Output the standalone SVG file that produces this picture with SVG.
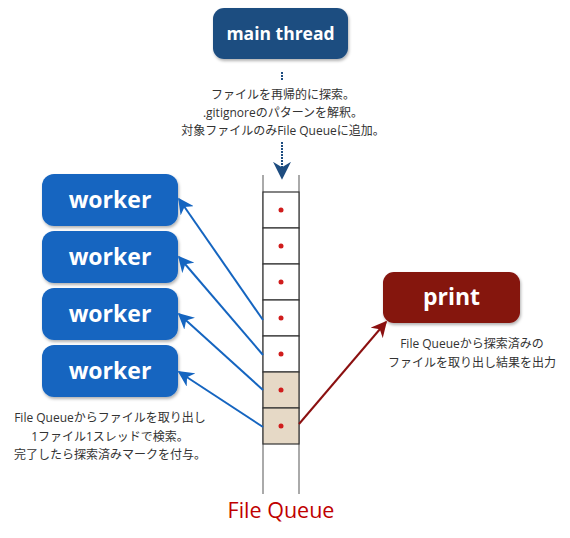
<svg xmlns="http://www.w3.org/2000/svg" width="570" height="538" viewBox="0 0 570 538">
<defs>
<filter id="sh" x="-10%" y="-10%" width="130%" height="140%"><feDropShadow dx="1" dy="2" stdDeviation="1.5" flood-color="#000" flood-opacity="0.3"/></filter>
<marker id="ar" viewBox="0 0 10 10" refX="9" refY="5" markerWidth="16" markerHeight="16" orient="auto" markerUnits="userSpaceOnUse"><path d="M0,0 L10,5 L0,10 L3,5 Z" fill="#8b1010"/></marker>
<marker id="abig" viewBox="0 0 10 10" refX="9" refY="5" markerWidth="16" markerHeight="16" orient="auto" markerUnits="userSpaceOnUse"><path d="M0,0 L10,5 L0,10 L3,5 Z" fill="#1565c0"/></marker>
<marker id="ad" viewBox="0 0 10 10" refX="9" refY="5" markerWidth="18" markerHeight="18" orient="auto" markerUnits="userSpaceOnUse"><path d="M0,0 L10,5 L0,10 L3,5 Z" fill="#1e4d80"/></marker>
</defs>
<style>
.box{filter:url(#sh)}
.lbl{font-family:"Open Sans","Noto Sans","Noto Sans CJK JP",sans-serif;font-weight:bold;fill:#fff;text-anchor:middle}
.cap{font-family:"Open Sans","Noto Sans CJK JP",sans-serif;font-size:12px;fill:#333;text-anchor:middle}
.cell{stroke:#333;stroke-width:1.2}
.dot{fill:#d01c1c}
.rail{stroke:#aaa;stroke-width:2}
.wk{fill:#1565c0}
.barr{stroke:#1565c0;stroke-width:2;fill:none;marker-end:url(#abig)}
</style>
<g id="main-thread">
<rect class="box" x="213" y="8" width="135" height="51" rx="11" fill="#1e4d80"/>
<text class="lbl" x="280.5" y="40" font-size="17.5">main thread</text>
</g>
<g id="main-caption">
<text class="cap" x="283" y="99">ファイルを再帰的に探索。</text>
<text class="cap" x="283" y="117">.gitignoreのパターンを解釈。</text>
<text class="cap" x="283" y="135">対象ファイルのみFile Queueに追加。</text>
</g>
<g id="file-queue">
<line class="rail" x1="263" y1="175" x2="263" y2="494"/>
<line class="rail" x1="299" y1="175" x2="299" y2="494"/>
<rect class="cell" x="263" y="192" width="36" height="36" fill="#fff"/>
<rect class="cell" x="263" y="228" width="36" height="36" fill="#fff"/>
<rect class="cell" x="263" y="264" width="36" height="36" fill="#fff"/>
<rect class="cell" x="263" y="300" width="36" height="36" fill="#fff"/>
<rect class="cell" x="263" y="336" width="36" height="36" fill="#fff"/>
<rect class="cell" x="263" y="372" width="36" height="36" fill="#e6d9c6"/>
<rect class="cell" x="263" y="408" width="36" height="36" fill="#e6d9c6"/>
<circle class="dot" cx="281" cy="210" r="2.5"/>
<circle class="dot" cx="281" cy="246" r="2.5"/>
<circle class="dot" cx="281" cy="282" r="2.5"/>
<circle class="dot" cx="281" cy="318" r="2.5"/>
<circle class="dot" cx="281" cy="354" r="2.5"/>
<circle class="dot" cx="281" cy="390" r="2.5"/>
<circle class="dot" cx="281" cy="426" r="2.5"/>
<text x="281" y="518" font-family="'Open Sans','Noto Sans',sans-serif" font-size="21.5" fill="#c00000" text-anchor="middle">File Queue</text>
</g>
<g id="worker-1"><rect class="box wk" x="42" y="174" width="136" height="52" rx="12"/><text class="lbl" x="110" y="208" font-size="23">worker</text></g>
<g id="worker-2"><rect class="box wk" x="42" y="231" width="136" height="52" rx="12"/><text class="lbl" x="110" y="265" font-size="23">worker</text></g>
<g id="worker-3"><rect class="box wk" x="42" y="288" width="136" height="52" rx="12"/><text class="lbl" x="110" y="322" font-size="23">worker</text></g>
<g id="worker-4"><rect class="box wk" x="42" y="345" width="136" height="52" rx="12"/><text class="lbl" x="110" y="379" font-size="23">worker</text></g>
<g id="worker-caption">
<text class="cap" x="110" y="422">File Queueからファイルを取り出し</text>
<text class="cap" x="110" y="441">1ファイル1スレッドで検索。</text>
<text class="cap" x="110" y="459">完了したら探索済みマークを付与。</text>
</g>
<g id="print">
<rect class="box" x="383" y="272" width="137" height="51" rx="11" fill="#85120d"/>
<text class="lbl" x="451.5" y="305" font-size="23">print</text>
</g>
<g id="print-caption">
<text class="cap" x="472" y="348">File Queueから探索済みの</text>
<text class="cap" x="472" y="367">ファイルを取り出し結果を出力</text>
</g>
<g id="connectors">
<line x1="282" y1="72" x2="282" y2="81" stroke="#1e4d80" stroke-width="2" stroke-dasharray="2 1"/>
<line x1="282" y1="142" x2="282" y2="178" stroke="#1e4d80" stroke-width="2" stroke-dasharray="2 1" marker-end="url(#ad)"/>
<line class="barr" x1="263" y1="320" x2="179" y2="199"/>
<line class="barr" x1="263" y1="355" x2="179" y2="257"/>
<line class="barr" x1="263" y1="390" x2="179" y2="314"/>
<line class="barr" x1="263" y1="427" x2="179" y2="372"/>
<line x1="299" y1="424" x2="386" y2="322" stroke="#8b1010" stroke-width="2" marker-end="url(#ar)"/>
</g>
</svg>
